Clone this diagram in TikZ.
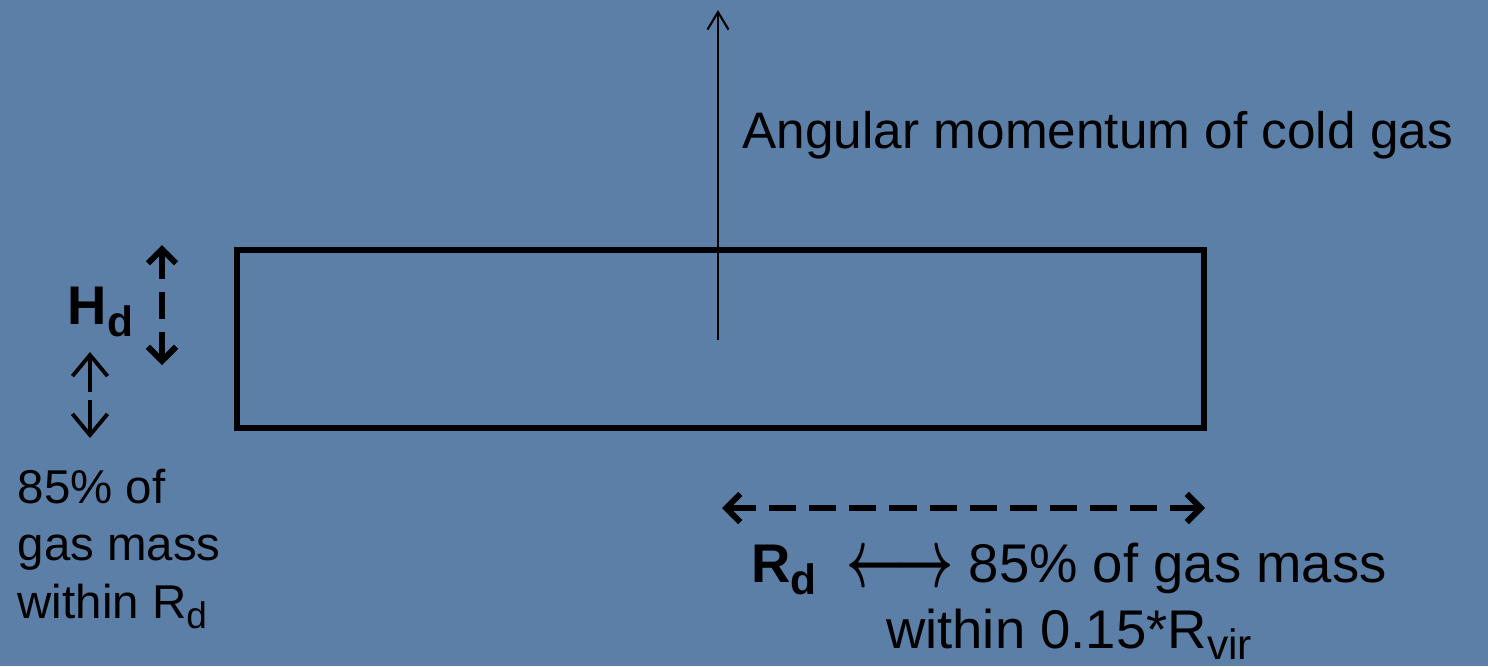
\documentclass[tikz,border=0pt]{standalone}
\usepackage{fontspec}
\setmainfont{Liberation Sans}
\usepackage{graphicx}
\usetikzlibrary{arrows.meta}
\definecolor{slide}{RGB}{92,127,168}
\newcommand{\lowsub}[1]{\raisebox{-0.22em}{\scalebox{0.78}{#1}}}
\newcommand{\bigarrows}{\raisebox{-0.08em}{\scalebox{1.0}[1.65]{\boldmath$\leftarrow\!\rightarrow$}}}

\begin{document}
\begin{tikzpicture}[
  lbl/.style={inner sep=0pt, font=\fontsize{15.5}{18.7}\selectfont},
  dimarrow/.style={line width=1.7pt, dash pattern=on 7.7pt off 3.7pt,
    {Straight Barb[length=4pt,width=8pt]}-{Straight Barb[length=4pt,width=8pt]}},
  updown/.style={line width=1.1pt, -{Straight Barb[length=6pt,width=10pt]}}
  ]
  \fill[slide] (0,0) rectangle (14.88,6.66);
  \useasboundingbox (0,0) rectangle (14.88,6.66);
  % the disc
  \node[draw, line width=1.7pt, minimum width=9.67cm, minimum height=1.78cm, inner sep=0pt] (disk) at (7.205,3.27) {};
  \coordinate (spin0) at (7.18,3.26);
  \coordinate (spin1) at (7.18,6.56);
  \draw[line width=0.6pt, -{Straight Barb[length=5pt,width=6pt]}] (spin0) -- (spin1);
  \node[lbl, font=\fontsize{14.6}{17}\selectfont, anchor=base west] (spinlbl) at (7.42,5.18) {Angular momentum of cold gas};
  % height of the disc
  \node[anchor=base west, inner sep=0pt, font=\fontsize{15.5}{18}\selectfont\bfseries] (hd) at (0.67,3.41) {H\lowsub{d}};
  \coordinate (hd0) at (1.62,4.21);
  \coordinate (hd1) at (1.62,3.01);
  \draw[dimarrow] (hd0) -- (hd1);
  \coordinate (up0) at (0.90,2.74);
  \coordinate (up1) at (0.90,3.14);
  \coordinate (dn0) at (0.90,2.66);
  \coordinate (dn1) at (0.90,2.28);
  \draw[updown] (up0) -- (up1);
  \draw[updown] (dn0) -- (dn1);
  \node[anchor=base west, align=left, inner sep=0pt, font=\fontsize{13.5}{16.3}\selectfont] (hdlbl) at (0.17,0.48) {85\% of\\gas mass\\within R\lowsub{d}};
  % radius of the disc
  \coordinate (rd0) at (7.22,1.58);
  \coordinate (rd1) at (12.05,1.58);
  \draw[dimarrow] (rd0) -- (rd1);
  \node[lbl, align=center, anchor=base] (rdlbl) at (10.69,0.18) {\textbf{R\lowsub{d}}\ \ \bigarrows\ 85\% of gas mass\\within 0.15*R\lowsub{vir}};
\end{tikzpicture}
\end{document}
